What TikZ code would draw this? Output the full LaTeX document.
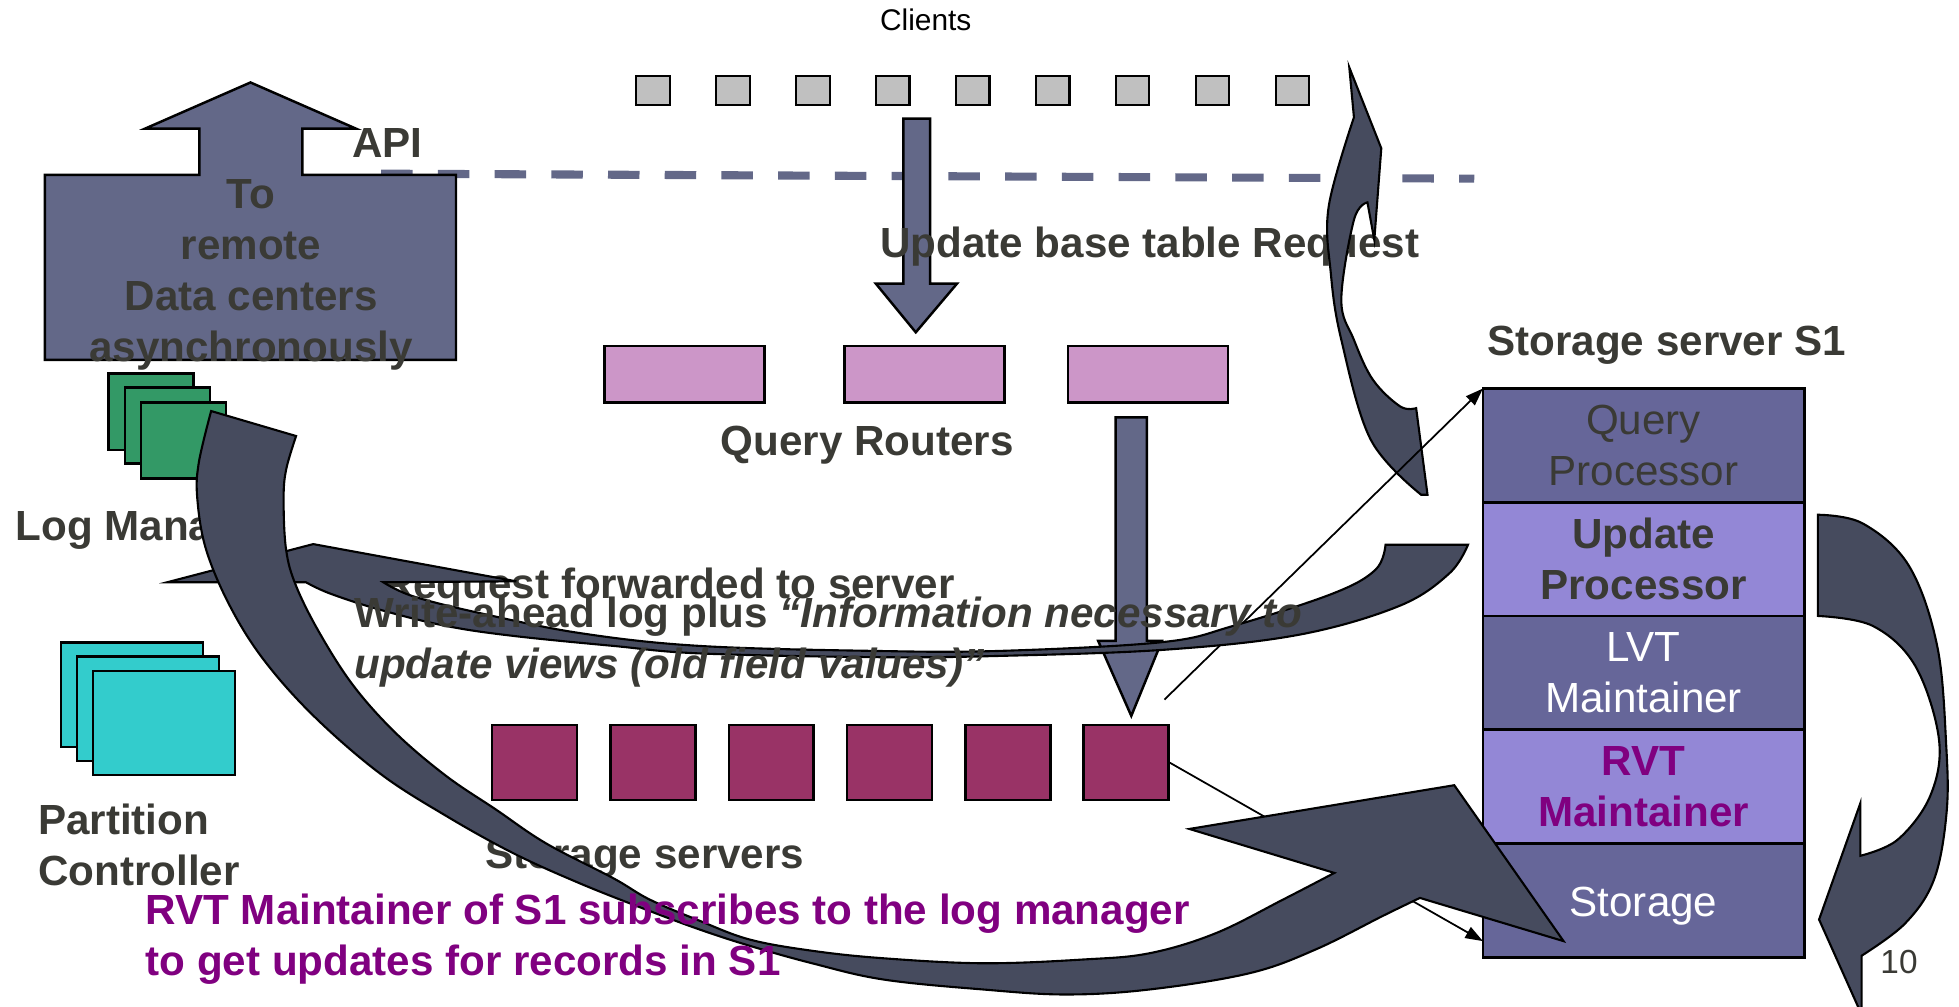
\documentclass[tikz,border=0pt]{standalone}
\usepackage{fontspec}
\setmainfont{Liberation Sans}
\usetikzlibrary{positioning,arrows.meta}

\definecolor{slate}{RGB}{99,104,136}
\definecolor{banddark}{RGB}{70,75,94}
\definecolor{ink}{RGB}{58,58,53}
\definecolor{rowdark}{RGB}{102,102,153}
\definecolor{rowlight}{RGB}{147,135,214}
\definecolor{routerfill}{RGB}{204,150,200}
\definecolor{serverfill}{RGB}{153,51,102}
\definecolor{logfill}{RGB}{51,153,102}
\definecolor{pcfill}{RGB}{51,204,204}
\definecolor{clientfill}{RGB}{192,192,192}
\definecolor{rvtpurple}{RGB}{128,0,128}

\tikzset{
	txt/.style={inner sep=0pt, yshift=-0.045cm, text=ink, font=\fontsize{12}{14.5}\selectfont\bfseries},
	clientbox/.style={draw, line width=0.6pt, fill=clientfill, inner sep=0pt, minimum width=0.3375cm, minimum height=0.2875cm},
	routerbox/.style={draw, line width=0.7pt, fill=routerfill, inner sep=0pt, minimum width=1.6cm, minimum height=0.5625cm},
	serverbox/.style={draw, line width=0.7pt, fill=serverfill, inner sep=0pt, minimum width=0.85cm, minimum height=0.75cm},
	logbox/.style={draw, line width=0.7pt, fill=logfill, inner sep=0pt, minimum width=0.85cm, minimum height=0.7625cm},
	pcbox/.style={draw, line width=0.7pt, fill=pcfill, inner sep=0pt, minimum width=1.42cm, minimum height=1.045cm},
	layer/.style={draw, line width=0.8pt, inner sep=0pt, outer sep=0pt, align=center, minimum width=3.2125cm, minimum height=1.1375cm, font=\fontsize{12}{14.5}\selectfont},
	blockarrow/.style={draw, line width=0.7pt, fill=slate},
	bandarrow/.style={draw, line width=0.6pt, fill=banddark},
	pointer/.style={line width=0.5pt, -{Triangle[length=5pt,width=3.5pt]}}
}

\begin{document}
\begin{tikzpicture}[x=0.0125cm, y=-0.0125cm]
	\useasboundingbox (0,0) rectangle (1568,806);

	\coordinate (apileft) at (305,139);
	\coordinate (apiright) at (1180,143);
	\draw[slate, line width=2.3pt, dash pattern=on 0.315cm off 0.2525cm] (apileft) -- (apiright);

	\draw[blockarrow] (36,288) -- (36,140) -- (159.5,140) -- (159.5,103) -- (116,103) -- (200.5,66)
		-- (285,103) -- (242,103) -- (242,140) -- (365,140) -- (365,288) -- cycle;
	\node[txt, align=center] (remote) at (201,216.5) {To\\remote\\Data centers\\asynchronously};
	\node[txt] (api) at (310,111) {API};

	\node[inner sep=0pt, font=\fontsize{8.5}{10}\selectfont] (clients) at (741,16) {Clients};
	\foreach \i in {0,...,8}
		\node[clientbox] (cl\i) at (522.5+64*\i,72.5) {};

	\draw[blockarrow] (723,95) -- (744.5,95) -- (744.5,227) -- (766,227) -- (733,266) -- (701,227) -- (723,227) -- cycle;

	\node[routerbox] (qr1) at (548,299.5) {};
	\node[routerbox] (qr2) at (740,299.5) {};
	\node[routerbox] (qr3) at (919,299.5) {};
	\node[txt] (routers) at (694,353) {Query Routers};
	\node[txt, anchor=west] (update) at (704,194) {Update base table Request};

	\draw[bandarrow] plot[smooth, tension=0.6] coordinates {(1137.5,396) (1097.2,352) (1073.6,272) (1065.2,218.7) (1063.5,165.3) (1083.7,93.9)}
		-- (1080,54) -- (1105.6,118.7) -- (1100,192) -- (1094.5,162)
		-- plot[smooth, tension=0.6] coordinates {(1094.5,162) (1083.7,176) (1073.6,240) (1083.7,272) (1098.9,304) (1120.7,325.3) (1133.5,326.7)}
		-- (1142.6,396) -- cycle;

	\draw[blockarrow] (893,334) -- (918,334) -- (918,513) -- (930,513) -- (905.5,573) -- (879,513) -- (893,513) -- cycle;

	\foreach \i in {1,...,6}
		\node[serverbox] (ss\i) at (333.2+94.7*\i,610.5) {};
	\node[txt, anchor=west] (servers) at (388,683) {Storage servers};

	\node[txt, anchor=west] (s1title) at (1190,273) {Storage server S1};
	\node[layer, fill=rowdark, text=ink] (qp) at (1315.5,356.5) {Query\\Processor};
	\node[layer, fill=rowlight, text=ink, font=\fontsize{12}{14.5}\selectfont\bfseries, below=0pt of qp] (up) {Update\\Processor};
	\node[layer, fill=rowdark, text=white, below=0pt of up] (lvt) {LVT\\Maintainer};
	\node[layer, fill=rowlight, text=rvtpurple, font=\fontsize{12}{14.5}\selectfont\bfseries, below=0pt of lvt] (rvt) {RVT\\Maintainer};
	\node[layer, fill=rowdark, text=white, below=0pt of rvt] (st) {\raisebox{-0.06cm}[\height][\depth]{Storage}};

	\coordinate (fwd) at (932,560);
	\draw[pointer] (fwd) -- (qp.north west);
	\draw[pointer] (ss6.east) -- ([yshift=0.16cm]st.south west);

	\node[txt, anchor=west] (lmlabel) at (12,421) {Log Manager};
	\node[logbox] (lm1) at (121,329.5) {};
	\node[logbox] (lm2) at (134,340.5) {};
	\node[logbox] (lm3) at (147,352.5) {};

	\node[pcbox] (pc1) at (105.6,556.2) {};
	\node[pcbox] (pc2) at (118.6,567.3) {};
	\node[pcbox] (pc3) at (131.2,578.7) {};
	\node[txt, anchor=west, align=left] (pclabel) at (30,673) {Partition\\Controller};

	\node[txt, anchor=west] (fwdtext) at (306,467) {Request forwarded to server};
	\draw[bandarrow] (134,466) -- (250.7,435.5) -- (413.3,465.3) -- (306.7,466)
		-- plot[smooth, tension=0.6] coordinates {(306.7,466) (330.7,477.3) (384,490.7) (464,506.7) (560,517) (700,521) (800,521) (930,514) (987,501) (1067,475) (1101,456) (1109,436)}
		-- (1175,436)
		-- plot[smooth, tension=0.6] coordinates {(1175,436) (1160,459) (1120,485) (1040,508) (933,520) (800,525) (700,526) (560,523) (491,517) (411,509) (357,501) (304,488) (264,475) (244.8,466)}
		-- cycle;
	\node[txt, anchor=west, align=left] (waltext) at (283,510) {Write-ahead log plus \textit{“Information necessary to}\\\textit{update views (old field values)”}};

	\draw[bandarrow] plot[smooth, tension=0.6] coordinates {(169,329) (159,371) (158,400) (165,440) (184,485) (211,528) (251,573) (304,619) (357,653) (411,683) (464,707) (517,728) (560,744) (600,757) (650,771) (707,784) (787,792) (853,796) (920,792) (1000,779) (1053,760) (1107,733) (1136.5,718.7)}
		-- (1251.5,753.3) -- (1164,628.5) -- (952,663.5) -- (1068,698.7)
		-- plot[smooth, tension=0.6] coordinates {(1068,698.7) (1027,720) (973,747) (920,763) (867,768) (787,771) (707,767) (650,761) (600,752) (560,737) (520,720) (491,703) (437,675) (397,648) (357,621) (317,587) (283,549) (256,507) (237,469) (229,440) (227,400) (229,376) (237,349)}
		-- cycle;
	\node[txt, text=rvtpurple, anchor=west, align=left] (subtext) at (116,748.5) {RVT Maintainer of S1 subscribes to the log manager\\to get updates for records in S1};

	\draw[bandarrow] plot[smooth, tension=0.6] coordinates {(1455,412) (1491,419) (1528,453) (1550.6,517.3) (1557.8,597.3) (1558,651) (1548,704) (1525,739) (1490,765)}
		-- (1490,812) -- (1456,736) -- (1489,643) -- (1489,685)
		-- plot[smooth, tension=0.6] coordinates {(1489,685) (1519,672) (1545,637) (1552,592) (1533,533) (1499,501) (1455,493)}
		-- cycle;

	\node[inner sep=0pt, text=ink, font=\fontsize{9.5}{11}\selectfont] (pagenum) at (1520,770) {10};
\end{tikzpicture}
\end{document}
